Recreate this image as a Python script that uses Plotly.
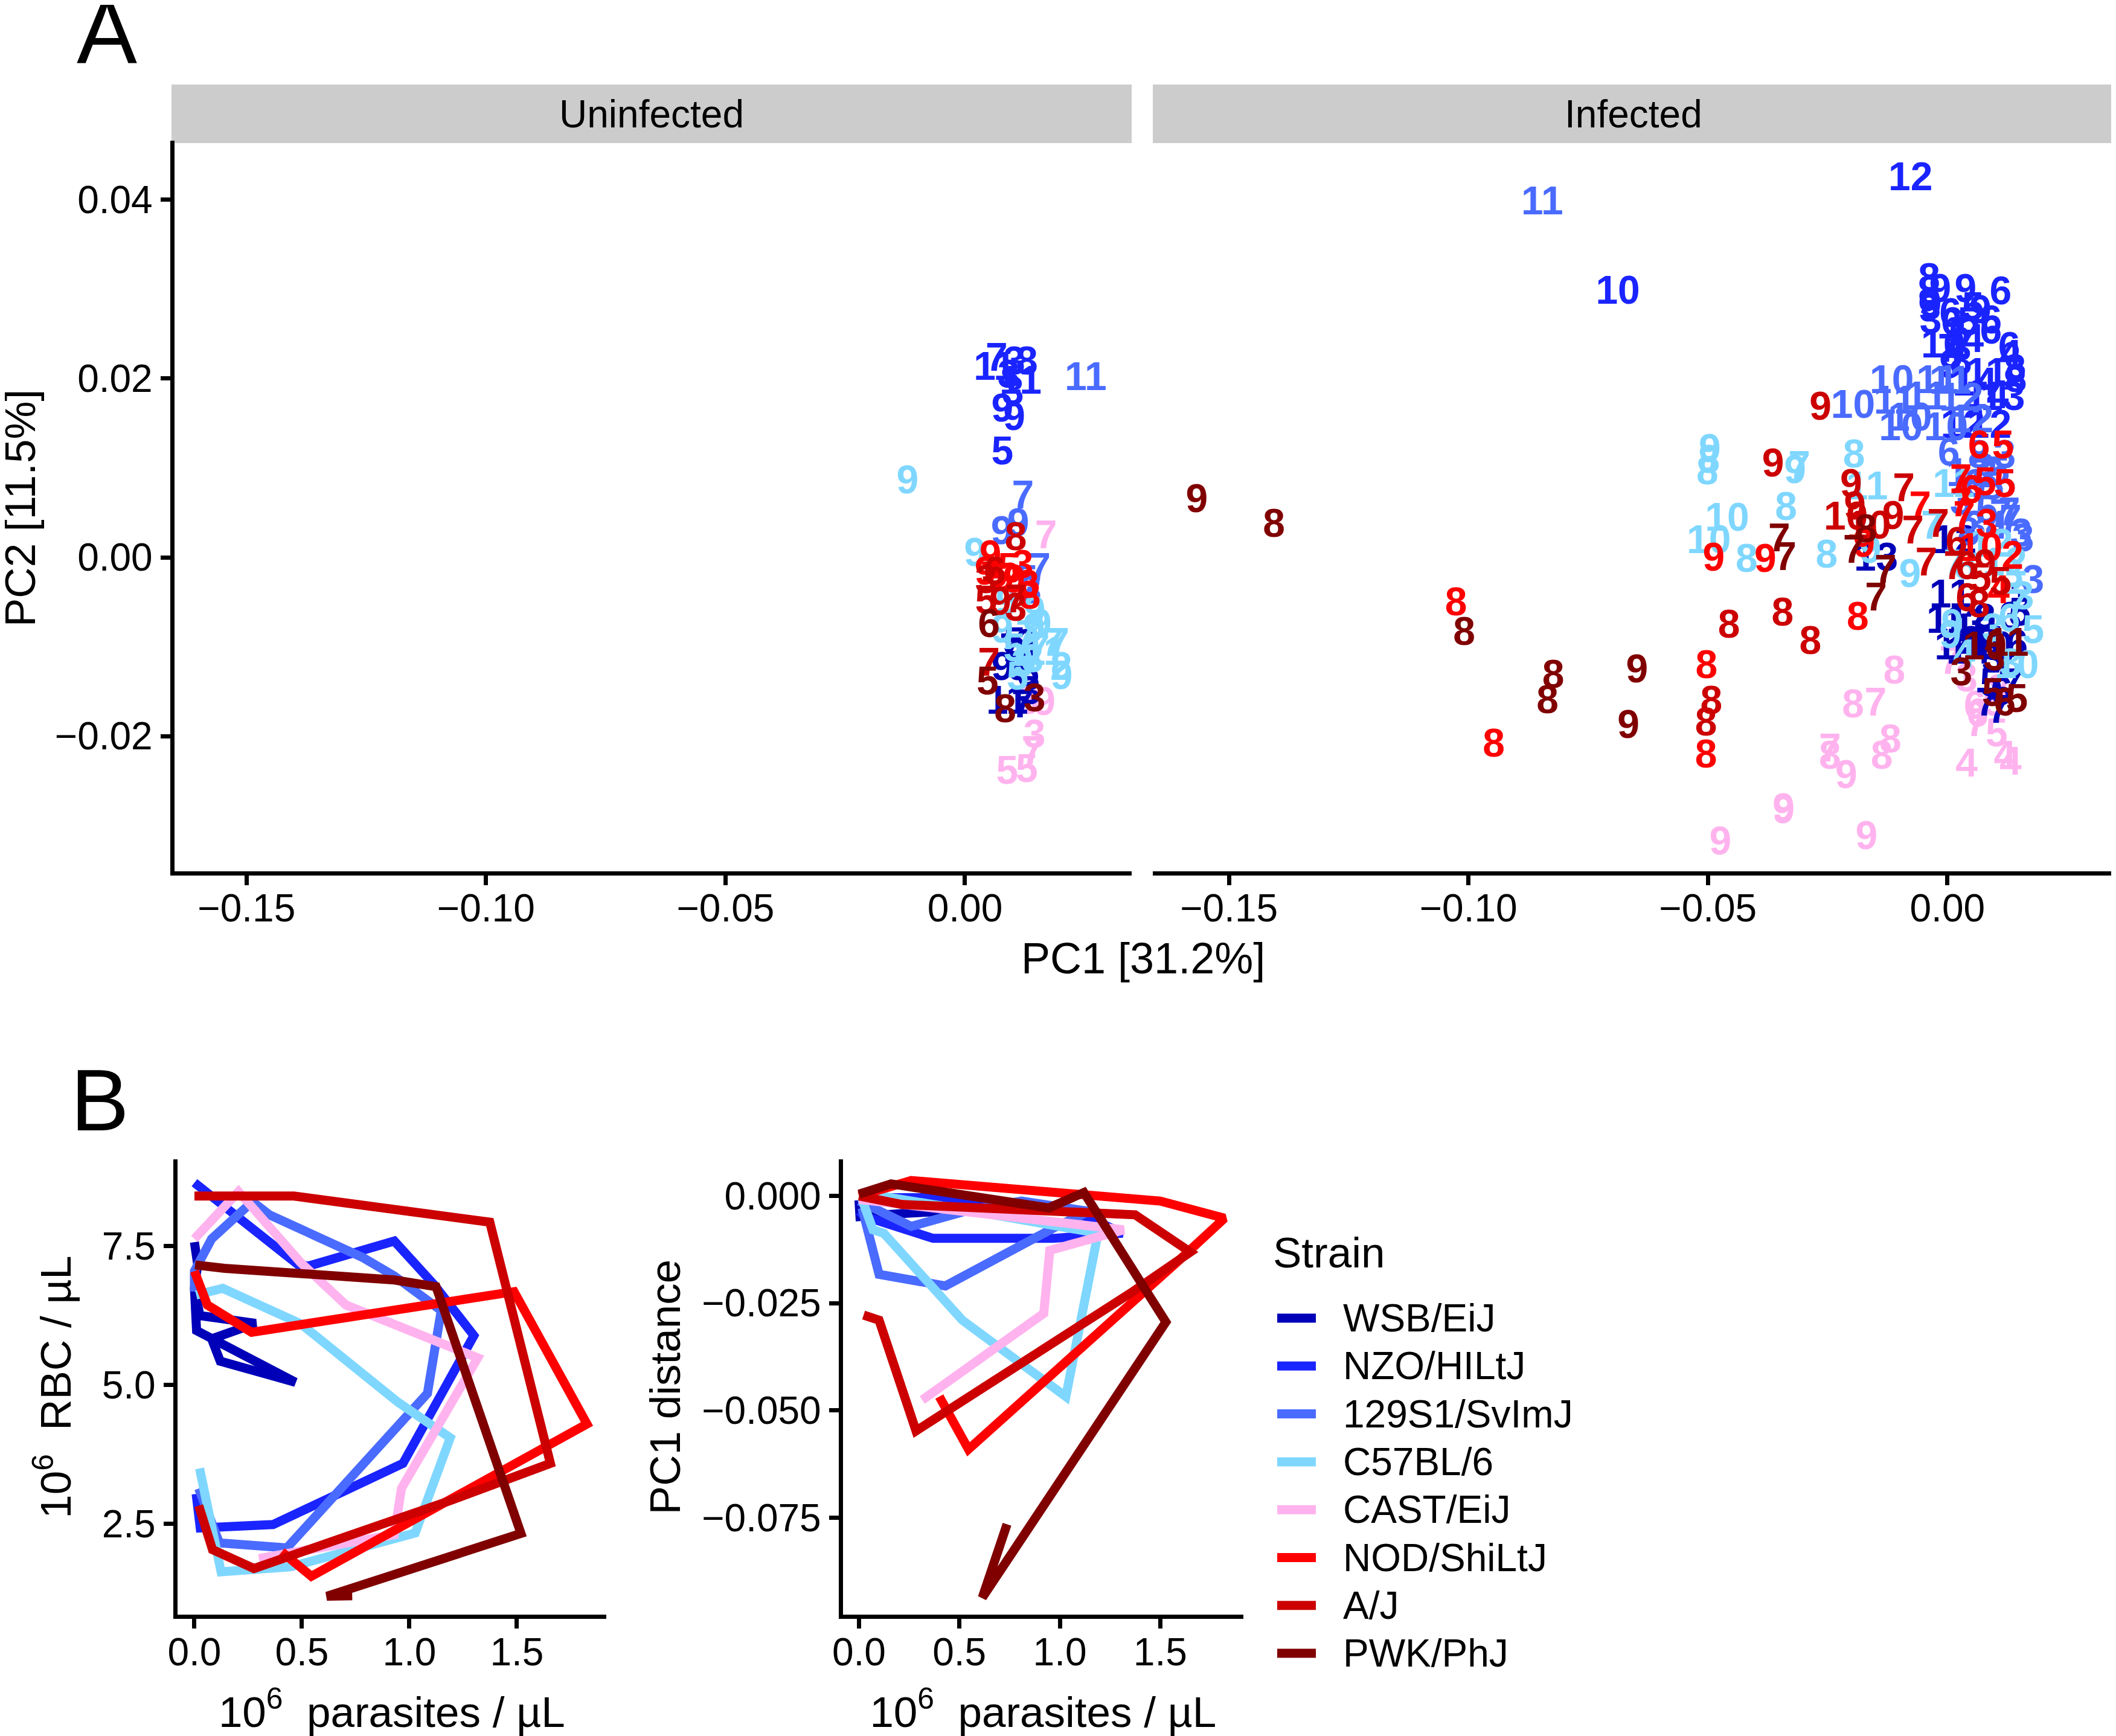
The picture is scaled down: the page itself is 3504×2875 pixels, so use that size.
import plotly.graph_objects as go

W, H = 3504, 2875
PAGE = 8  # the page's own margin around the figure
FONT = "Liberation Sans"
INK = "#000000"

STRAINS = ["WSB/EiJ", "NZO/HILtJ", "129S1/SvImJ", "C57BL/6", "CAST/EiJ", "NOD/ShiLtJ", "A/J", "PWK/PhJ"]
COLORS = ["#0000B8", "#1A24FF", "#4A6BFF", "#7FD7FF", "#FFB3EE", "#FF0000", "#CC0000", "#800000"]
# draw order in panel A (pink sits below the others)
TEXT_ORDER = [4, 0, 1, 2, 3, 5, 6, 7]
# text glyphs sit slightly above their anchor, so labels are nudged by this much along PC2
TEXT_DY = -.0004

# ---- Panel A, Uninfected ----
U_WSB_PC1 = [.0103, .0095, .0129, .0132, .0078, .0112, .0132, .0088, .012, .0135]
U_WSB_PC2 = [-.0094, -.0101, -.0096, -.0101, -.0122, -.0122, -.0129, -.016, -.0164, -.0149]
U_WSB_DAY = [5, 7, 3, 4, 9, 9, 5, 11, 7, 3]
U_NZO_PC1 = [.0066, .0062, .0129, .0103, .0116, .01, .0091, .0078, .0103, .0078]
U_NZO_PC2 = [.0224, .0214, .022, .022, .0198, .0186, .0205, .0167, .0158, .0119]
U_NZO_DAY = [7, 11, 8, 3, 11, 3, 3, 9, 9, 5]
U_129_PC1 = [.0252, .0121, .0077, .0111, .0156, .0137, .0129]
U_129_PC2 = [.0202, .007, .003, .0039, -.0011, -.0036, -.0025]
U_129_DAY = [11, 7, 9, 9, 7, 3, 5]
U_C57_PC1 = [-.012, .0021, .0145, .0158, .0078, .0195, .0183, .0201, .0202, .0154, .0166, .012, .0125, .0103, .0087, .0141, .011, .0129, .0144]
U_C57_PC2 = [.0087, .0006, -.0059, -.0074, -.008, -.0095, -.0095, -.0122, -.0132, -.0101, -.0105, -.0118, -.0115, -.0101, -.0049, -.0113, -.0133, -.0086, -.0079]
U_C57_DAY = [9, 9, 9, 9, 9, 7, 7, 2, 9, 7, 11, 3, 5, 5, 9, 3, 5, 7, 9]
U_CAST_PC1 = [.0169, .0132, .0166, .0145, .0141, .0088, .0129]
U_CAST_PC2 = [.0025, -.016, -.0161, -.0198, -.0216, -.0238, -.0236]
U_CAST_DAY = [7, 3, 9, 3, 7, 5, 5]
U_NOD_PC1 = [.0053, .012, .0091, .0132, .0043, .0066, .0078, .0103, .0135]
U_NOD_PC2 = [.0003, -.0008, -.0011, -.003, -.0015, -.0018, -.0022, -.0024, -.0042]
U_NOD_DAY = [9, 3, 5, 3, 9, 6, 5, 9, 8]
U_AJ_PC1 = [.0106, .0044, .0074, .0106, .0106, .005, .0044, .0062]
U_AJ_PC2 = [.0023, -.0048, -.0049, -.0046, -.0056, -.0117, -.0025, -.0015]
U_AJ_DAY = [8, 5, 9, 7, 3, 7, 3, 6]
U_PWK_PC1 = [.005, .0047, .0084, .0145]
U_PWK_PC2 = [-.0074, -.0138, -.0169, -.0157]
U_PWK_DAY = [6, 5, 8, 3]

# ---- Panel A, Infected ----
I_WSB_PC1 = [-.0149, .0015, .0006, 0, .0019, .0044, .0035, .0078, .0154, .0132, .0151, .0082, .0107, .0091, .0136, .0091, .0145, .0113, .0057, .005, .0082, .012, .0095]
I_WSB_PC2 = [0, .002, -.0041, -.0069, -.0099, -.0104, -.0074, -.0068, -.0043, -.0066, -.0061, -.0162, -.017, -.014, -.014, -.0099, -.0097, -.015, -.0079, -.0093, -.0093, -.012, -.0113]
I_WSB_DAY = [13, 12, 11, 11, 14, 14, 13, 8, 3, 3, 5, 7, 7, 5, 7, 10, 6, 6, 13, 9, 11, 7, 3]
I_NZO_PC1 = [-.0038, -.0038, -.0035, -.0038, -.0015, .0038, .0111, .0053, .0006, .0069, .0091, .0091, -.0035, -.0009, .0003, .0015, .0053, .0013, .001, .0044, .0025, .0032, .0006, .0028, .0129, .0132, .0141, .0143, .0082, .0057, .0082, .0116, .0032, .0088, -.0688, -.0077]
I_NZO_PC2 = [.0313, .0299, .0284, .0279, .0301, .0301, .0298, .0281, .0274, .0277, .0266, .0254, .0266, .0239, .0234, .0247, .0245, .0232, .0264, .0264, .0252, .0239, .0216, .022, .0236, .0227, .0211, .02, .0207, .0196, .0182, .018, .0149, .0149, .0299, .0426]
I_NZO_DAY = [8, 8, 9, 9, 9, 9, 6, 5, 6, 9, 6, 6, 3, 10, 7, 7, 4, 4, 6, 5, 5, 7, 9, 8, 6, 4, 8, 8, 11, 14, 14, 13, 12, 12, 10, 12]
I_129_PC1 = [-.0846, -.0116, -.0021, -.0197, -.011, -.0044, -.0097, -.0078, -.0003, .0029, .0006, .005, .0003, .0066, .012, .0076, .0044, .0107, .0095, .0028, .0082, .0129, .0111, .0154, .0158, .0103, .0057, .0179, .0057, .0132, .0044, .012]
I_129_PC2 = [.0399, .0199, .0199, .0171, .0176, .0181, .0146, .0157, .0146, .0179, .0198, .0155, .0118, .0115, .0115, .01, .0095, .0097, .008, .0063, .0054, .0051, .0049, .0027, .0022, .0036, .0036, -.0025, .0083, .0043, .0029, .0083]
I_129_DAY = [11, 10, 11, 10, 11, 11, 10, 10, 10, 12, 11, 12, 6, 8, 3, 3, 13, 5, 5, 3, 5, 7, 7, 3, 3, 4, 3, 3, 6, 7, 8, 5]
I_C57_PC1 = [-.0496, -.0501, -.0498, -.046, -.0498, -.0419, -.0337, -.0318, -.0309, -.0195, -.0252, -.0168, -.0161, -.0078, -.0032, .0091, .012, .0136, .0015, .0013, .0158, .0179, .001, .0006, .0145, .0132, .0129, .0035, .0145, .0095, .0038]
I_C57_PC2 = [.0122, .0097, .011, .0045, .002, -.0001, .0057, .0098, .0103, .0116, .0004, .008, .0009, -.0018, .0036, .0016, -.0005, -.0018, -.0007, .0083, -.0043, -.0081, -.0074, -.0086, -.012, -.0118, -.0068, -.0108, -.0052, -.0079, -.0009]
I_C57_DAY = [9, 8, 8, 10, 10, 8, 8, 9, 7, 8, 8, 11, 9, 9, 7, 12, 12, 3, 7, 11, 3, 5, 9, 9, 10, 3, 6, 4, 7, 3, 8]
I_CAST_PC1 = [-.0111, -.0197, -.015, -.0119, -.0137, -.0245, -.0245, -.0211, -.0342, -.0342, -.0474, -.0169, .0006, .004, .0057, .0063, .0061, .0103, .004, .012, .0132, .0107, .0098]
I_CAST_PC2 = [-.0126, -.0164, -.0162, -.0203, -.0221, -.0213, -.0221, -.0243, -.0282, -.028, -.0317, -.0311, -.0115, -.0135, -.0165, -.0174, -.0185, -.0196, -.023, -.0221, -.0228, -.0147, -.0162]
I_CAST_DAY = [8, 8, 7, 8, 8, 7, 8, 9, 9, 9, 9, 9, 7, 3, 6, 6, 7, 5, 4, 4, 4, 8, 9]
I_NOD_PC1 = [-.0488, -.038, -.0187, -.0503, -.0174, -.0057, .0028, .0079, .012, .0116, .0066, .0028, .0035, .0082, .0069, .0136, .0107, .005, -.0947, -.0504, -.1026]
I_NOD_PC2 = [0, -.0001, -.0066, -.012, .0016, .0058, .0088, .0085, .0083, .0126, .0126, .0061, .0047, .0038, .0011, .0002, -.0036, .0076, -.0208, -.022, -.005]
I_NOD_DAY = [9, 9, 8, 8, 9, 7, 7, 5, 5, 5, 6, 7, 7, 3, 10, 2, 4, 6, 8, 8, 8]
I_AJ_PC1 = [-.0091, -.0113, -.0072, -.0019, -.0044, .0019, .0015, .004, .0079, .0069, .0111, .004, .0066, -.0364, -.0201, -.0193, -.0212, -.0164, -.0456, -.0344, -.0286, -.0265, -.0493, -.0504]
I_AJ_PC2 = [.0078, .0047, .0031, .0038, -.0005, .0018, -.0009, -.0009, -.0007, -.0023, -.0027, -.0045, -.0052, .0106, .0083, .0058, .0046, .0036, -.0075, -.0061, -.0093, .0169, -.016, -.0184]
I_AJ_DAY = [7, 9, 7, 7, 7, 6, 7, 6, 9, 5, 5, 6, 8, 9, 9, 9, 10, 10, 8, 8, 8, 9, 8, 8]
I_PWK_PC1 = [-.1567, -.1406, -.1009, -.0823, -.0835, -.0648, -.0666, -.0351, -.0338, -.0195, -.017, -.0129, -.0149, .0029, .0078, .0098, .0126, .0095, .012, .0145]
I_PWK_PC2 = [.0066, .0038, -.0083, -.0131, -.0159, -.0125, -.0187, .0022, .0001, .0009, .0032, -.0013, -.0044, -.0128, -.0099, -.0111, -.0095, -.0151, -.0162, -.0158]
I_PWK_DAY = [9, 8, 8, 8, 8, 9, 9, 7, 7, 7, 8, 7, 7, 3, 10, 3, 11, 5, 6, 5]

UNINFECTED = [(U_WSB_PC1, U_WSB_PC2, U_WSB_DAY), (U_NZO_PC1, U_NZO_PC2, U_NZO_DAY), (U_129_PC1, U_129_PC2, U_129_DAY),
              (U_C57_PC1, U_C57_PC2, U_C57_DAY), (U_CAST_PC1, U_CAST_PC2, U_CAST_DAY), (U_NOD_PC1, U_NOD_PC2, U_NOD_DAY),
              (U_AJ_PC1, U_AJ_PC2, U_AJ_DAY), (U_PWK_PC1, U_PWK_PC2, U_PWK_DAY)]
INFECTED = [(I_WSB_PC1, I_WSB_PC2, I_WSB_DAY), (I_NZO_PC1, I_NZO_PC2, I_NZO_DAY), (I_129_PC1, I_129_PC2, I_129_DAY),
            (I_C57_PC1, I_C57_PC2, I_C57_DAY), (I_CAST_PC1, I_CAST_PC2, I_CAST_DAY), (I_NOD_PC1, I_NOD_PC2, I_NOD_DAY),
            (I_AJ_PC1, I_AJ_PC2, I_AJ_DAY), (I_PWK_PC1, I_PWK_PC2, I_PWK_DAY)]

# ---- Panel B, RBC vs parasites ----
RBC_WSB_X = [0, .015, 0, .01, .47, .12, .08, .285, .025, .01]
RBC_WSB_Y = [7.57, 7.17, 6.74, 5.98, 5.05, 5.43, 5.83, 6.11, 6.25, 6.56]
RBC_NZO_X = [0, .48, .53, .93, 1.116, 1.30, .97, .656, .366, .027, .008]
RBC_NZO_Y = [8.64, 7.17, 7.14, 7.59, 6.80, 5.89, 3.59, 3.04, 2.49, 2.43, 3.04]
RBC_129_X = [0, 0, .08, .237, .27, .35, .785, .93, 1.148, 1.084, .656, .43, .116, .02]
RBC_129_Y = [6.68, 7.05, 7.63, 8.21, 8.30, 8.06, 7.29, 6.96, 6.34, 4.85, 3.01, 2.07, 2.16, 3.14]
RBC_C57_X = [.008, .132, .495, .947, 1.19, 1.027, .447, .124, .024]
RBC_C57_Y = [6.62, 6.74, 6.10, 4.69, 4.05, 2.34, 1.73, 1.64, 3.50]
RBC_CAST_X = [0, .205, .495, .705, 1.318, .963, .93, .30]
RBC_CAST_Y = [7.63, 8.48, 7.2, 6.44, 5.49, 3.14, 2.31, 1.88]
RBC_NOD_X = [0, .06, .266, 1.487, 1.826, 1.189, .544, .406]
RBC_NOD_Y = [7.05, 6.44, 5.95, 6.68, 4.30, 2.95, 1.56, 2.0]
RBC_AJ_X = [0, .463, 1.374, 1.656, 1.189, .277, .084, .02]
RBC_AJ_Y = [8.40, 8.40, 7.93, 3.59, 2.92, 1.70, 2.04, 2.83]
RBC_PWK_X = [.003, .14, .93, 1.124, 1.519, .616, .734]
RBC_PWK_Y = [7.16, 7.10, 6.89, 6.77, 2.33, 1.20, 1.21]
RBC = [(RBC_WSB_X, RBC_WSB_Y), (RBC_NZO_X, RBC_NZO_Y), (RBC_129_X, RBC_129_Y), (RBC_C57_X, RBC_C57_Y),
       (RBC_CAST_X, RBC_CAST_Y), (RBC_NOD_X, RBC_NOD_Y), (RBC_AJ_X, RBC_AJ_Y), (RBC_PWK_X, RBC_PWK_Y)]

# ---- Panel B, PC1 distance vs parasites ----
PCD_WSB_X = [0, .005, .25, .42, .47, .28, 0]
PCD_WSB_Y = [-.001, -.0048, -.004, -.0036, -.0025, -.0012, -.0005]
PCD_NZO_X = [0, .369, .553, .968, 1.129, 1.313, .968, .676, .369, .03, 0]
PCD_NZO_Y = [-.0004, -.0004, -.0012, -.0028, -.0048, -.0087, -.0099, -.0099, -.0099, -.0048, -.0036]
PCD_129_X = [0, .26, .55, .81, 1.144, .968, .43, .10, .015]
PCD_129_Y = [-.0012, -.0071, -.0033, -.0012, -.0036, -.0075, -.021, -.0183, -.0028]
PCD_C57_X = [0, .13, .5, .95, 1.19, 1.03, .515, .123, .07, .015]
PCD_C57_Y = [-.0003, -.0002, -.003, -.0065, -.0087, -.0468, -.029, -.0087, -.0079, -.0008]
PCD_CAST_X = [0, .7, 1.318, .95, .92, .315]
PCD_CAST_Y = [-.0008, -.0044, -.0079, -.0127, -.0274, -.0476]
PCD_NOD_X = [0, .26, 1.5, 1.82, 1.582, .545, .40]
PCD_NOD_Y = [0, .0036, -.0012, -.0052, -.0155, -.0591, -.0468]
PCD_AJ_X = [0, .215, 1.375, 1.65, 1.367, .284, .1, .023]
PCD_AJ_Y = [0, -.002, -.0044, -.0131, -.0222, -.0548, -.029, -.0278]
PCD_PWK_X = [0, .16, .945, 1.12, 1.528, .614, .737]
PCD_PWK_Y = [.0004, .0028, -.0028, .0008, -.0294, -.0937, -.0766]
PCD = [(PCD_WSB_X, PCD_WSB_Y), (PCD_NZO_X, PCD_NZO_Y), (PCD_129_X, PCD_129_Y), (PCD_C57_X, PCD_C57_Y),
       (PCD_CAST_X, PCD_CAST_Y), (PCD_NOD_X, PCD_NOD_Y), (PCD_AJ_X, PCD_AJ_Y), (PCD_PWK_X, PCD_PWK_Y)]

FW, FH = W - PAGE, H - PAGE


def px(x):
    return (x - PAGE) / FW


def py(y):
    return 1 - (y - PAGE) / FH


fig = go.Figure()

for i in TEXT_ORDER:
    for data, xa, ya in ((UNINFECTED, "x", "y"), (INFECTED, "x2", "y2")):
        xs, ys, days = data[i]
        fig.add_trace(go.Scatter(x=xs, y=[v + TEXT_DY for v in ys], text=[str(d) for d in days], mode="text", xaxis=xa, yaxis=ya,
                                 textposition="middle center", cliponaxis=False, showlegend=False,
                                 textfont=dict(family=FONT, size=66, color=COLORS[i], weight="bold"),
                                 name=STRAINS[i]))

for i, (xs, ys) in enumerate(RBC):
    fig.add_trace(go.Scatter(x=xs, y=ys, mode="lines", xaxis="x3", yaxis="y3", name=STRAINS[i], showlegend=False,
                             line=dict(color=COLORS[i], width=15)))
for i, (xs, ys) in enumerate(PCD):
    fig.add_trace(go.Scatter(x=xs, y=ys, mode="lines", xaxis="x4", yaxis="y4", name=STRAINS[i], showlegend=False,
                             line=dict(color=COLORS[i], width=15)))

AXIS = dict(showgrid=False, zeroline=False, showline=True, linecolor=INK, linewidth=7, ticks="outside", automargin=False,
            ticklen=16, tickwidth=7, tickcolor=INK, tickfont=dict(family=FONT, size=64, color=INK))
XSHIFT = dict(ticklabelstandoff=-16)
TITLE = dict(family=FONT, size=71, color=INK)

PC1_TICKS = [-.15, -.10, -.05, 0]

fig.update_layout(
    width=FW, height=FH, autosize=False, margin=dict(l=0, r=0, t=0, b=0), paper_bgcolor="white", plot_bgcolor="white",
    showlegend=False,
    xaxis=dict(AXIS, **XSHIFT, domain=[px(288.5), px(1874)], range=[-.1651, .0348], tickvals=PC1_TICKS, tickformat=".2f", anchor="y"),
    xaxis2=dict(AXIS, **XSHIFT, domain=[px(1909), px(3500)], range=[-.1659, .0347], tickvals=PC1_TICKS, tickformat=".2f", anchor="y2"),
    yaxis=dict(AXIS, domain=[py(1442.5), py(233)], range=[-.0351, .04662], tickvals=[-.02, 0, .02, .04], tickformat=".2f",
               anchor="x"),
    yaxis2=dict(domain=[py(1442.5), py(233)], range=[-.0351, .04662], anchor="x2", visible=False, automargin=False),
    xaxis3=dict(AXIS, **XSHIFT, domain=[px(293.5), px(1004)], range=[-.08, 1.916], tickvals=[0, .5, 1, 1.5], tickformat=".1f", anchor="y3",
                title=dict(text="10<sup>6</sup>  parasites / µL", font=TITLE, standoff=43)),
    yaxis3=dict(AXIS, domain=[py(2674), py(1920)], range=[.87, 9.06], tickvals=[2.5, 5, 7.5], tickformat=".1f", anchor="x3",
                title=dict(text="10<sup>6</sup>  RBC / µL", font=TITLE, standoff=30)),
    xaxis4=dict(AXIS, **XSHIFT, domain=[px(1395.5), px(2059)], range=[-.081, 1.914], tickvals=[0, .5, 1, 1.5], tickformat=".1f", anchor="y4",
                title=dict(text="10<sup>6</sup>  parasites / µL", font=TITLE, standoff=43)),
    yaxis4=dict(AXIS, domain=[py(2674), py(1920)], range=[-.09766, .00853], tickvals=[0, -.025, -.05, -.075], tickformat=".3f", anchor="x4",
                title=dict(text="PC1 distance", font=TITLE, standoff=15)),
)

shapes = []
annos = []


def note(text, x, y, size, xanchor="center", yanchor="middle", angle=0):
    annos.append(dict(text=text, x=px(x), y=py(y), xref="paper", yref="paper", showarrow=False, xanchor=xanchor,
                      yanchor=yanchor, textangle=angle, font=dict(family=FONT, size=size, color=INK), borderpad=0))


# strips
for left, right, label in ((284, 1874, "Uninfected"), (1909, 3500, "Infected")):
    shapes.append(dict(type="rect", xref="paper", yref="paper", x0=px(left), x1=px(right), y0=py(237), y1=py(140),
                       fillcolor="#CCCCCC", line=dict(width=0), layer="below"))
    note(label, (left + right) / 2, 189, 64)

note("PC1 [31.2%]", 1893, 1587, 72)
note("PC2 [11.5%]", 33, 842, 71, angle=-90)
note("A", 126, 52, 150, xanchor="left")
note("B", 116, 1822, 145, xanchor="left")

# legend
note("Strain", 2107, 2074, 71, xanchor="left")
for i, name in enumerate(STRAINS):
    yy = 2183 + i * 79.3
    shapes.append(dict(type="line", xref="paper", yref="paper", x0=px(2115), x1=px(2179), y0=py(yy), y1=py(yy),
                       line=dict(color=COLORS[i], width=15)))
    note(name, 2223, yy, 64, xanchor="left")

fig.update_layout(shapes=shapes, annotations=annos)
fig.write_html("out.html")
